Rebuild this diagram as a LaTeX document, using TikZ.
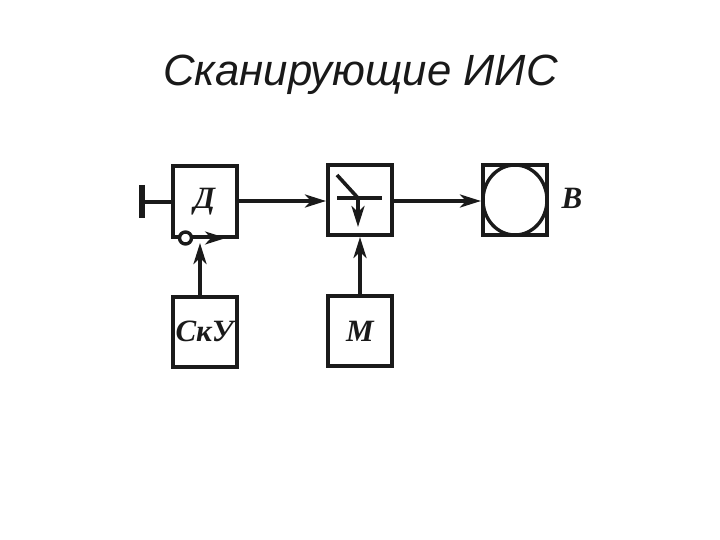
\documentclass[tikz,border=0pt]{standalone}
\usepackage{fontspec}
\setmainfont{Liberation Serif}
\newfontfamily\titlefont{Liberation Sans}
\usetikzlibrary{arrows.meta,shapes.geometric}
\definecolor{ink}{HTML}{1A1A1A}
\tikzset{
  blok/.style={draw=ink, line width=4pt, minimum width=64pt, minimum height=70pt, inner sep=0pt, font=\bfseries\itshape\fontsize{31}{31}\selectfont, text=ink},
  wire/.style={draw=ink, line width=3.6pt},
  sig/.style={wire, -{Stealth[length=21pt,width=13pt,inset=6pt]}}
}
\begin{document}
\begin{tikzpicture}[x=1pt,y=-1pt]
\useasboundingbox (0,0) rectangle (720,540);
\node [anchor=base, inner sep=0pt, font=\titlefont\itshape\fontsize{43.7}{43.7}\selectfont, text=black!90] (title) at (360.5,85.5) {Сканирующие ИИС};
\node [blok] (D) at (204.5,201.5) {\raisebox{-2pt}{Д}};
\node [blok] (K) at (360,200) {};
\node [blok] (E) at (515,200) {};
\node [blok] (S) at (204.5,331.5) {СкУ};
\node [blok] (M) at (360,331) {М};
\node [draw=ink, line width=3.4pt, ellipse, minimum width=64pt, minimum height=70pt, inner sep=0pt] (C) at (515,200) {};
\node [font=\bfseries\itshape\fontsize{31}{31}\selectfont, text=ink] (B) at (572,198) {В};
% sensor on the left
\coordinate (t1) at (142,185);
\coordinate (t2) at (142,218);
\coordinate (t3) at (142,202);
\draw [wire, line width=6pt] (t1) -- (t2);
\draw [wire] (t3) -- (D.west |- t3);
% scan along the bottom of D
\node [circle, draw=ink, line width=3.4pt, fill=white, minimum size=12pt, inner sep=0pt] (R) at (185.5,238) {};
\coordinate (r1) at (226,238);
\draw [sig, line width=2.8pt] (R) -- (r1);
% switch inside K
\coordinate (k1) at (337,175);
\coordinate (k2) at (358,198);
\coordinate (k3) at (337,198);
\coordinate (k4) at (382,198);
\coordinate (k5) at (358,227);
\draw [wire] (k1) -- (k2);
\draw [wire] (k3) -- (k4);
\draw [sig] (k2) -- (k5);
% main line
\draw [sig] (D.east |- 0,201) -- (K.west |- 0,201);
\draw [sig] (K.east |- 0,201) -- (E.west |- 0,201);
\draw [sig] (S.north -| 200,0) -- (200,243);
\draw [sig] (M) -- (K.south);
\end{tikzpicture}
\end{document}
